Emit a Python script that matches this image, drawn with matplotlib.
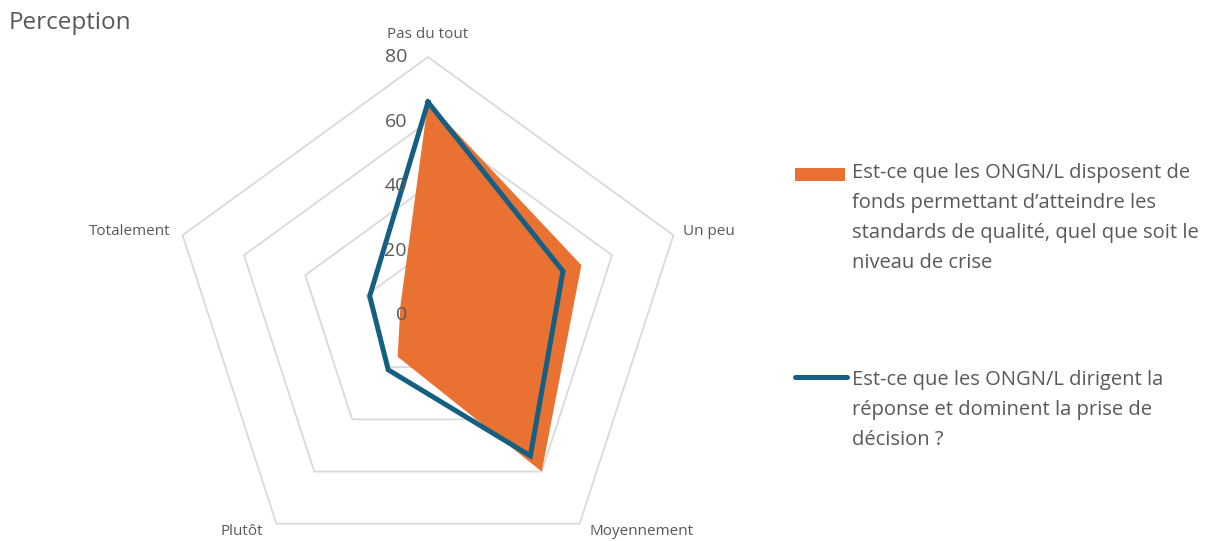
import numpy as np
import matplotlib.pyplot as plt
from matplotlib.patches import Rectangle
from matplotlib.lines import Line2D

plt.rcParams['font.family'] = ['Open Sans', 'DejaVu Sans']

categories = ['Pas du tout', 'Un peu', 'Moyennement', 'Plutôt', 'Totalement']
fonds = [66, 50, 60, 16, 9]
dirigent = [66, 44, 54, 21, 19]
rticks = [0, 20, 40, 60, 80]

label_fonds = ("Est-ce que les ONGN/L disposent de\nfonds permettant d\u2019atteindre les\n"
               "standards de qualité, quel que soit le\nniveau de crise")
label_dirigent = ("Est-ce que les ONGN/L dirigent la\nréponse et dominent la prise de\ndécision ?")

orange = '#E97132'
blue = '#156082'
grey = '#D9D9D9'
txt = '#595959'

W, H = 1214, 541
fig = plt.figure(figsize=(W / 100, H / 100), dpi=100)

# polar axes: centre at (428, 315) px, radius 258 px
cx, cy, R = 428, 315, 258
ax = fig.add_axes([(cx - R) / W, 1 - (cy + R) / H, 2 * R / W, 2 * R / H], projection='polar')
ax.set_theta_offset(np.pi / 2)
ax.set_theta_direction(-1)
ax.set_ylim(0, 80)
ax.grid(False)
ax.spines['polar'].set_visible(False)
ax.set_xticks([])
ax.set_yticks([])
ax.patch.set_alpha(0)

n = len(categories)
angles = np.arange(n) * 2 * np.pi / n
closed = np.append(angles, angles[0])

# pentagon gridlines
for r in rticks[1:]:
    ax.plot(closed, [r] * (n + 1), color=grey, lw=1.3, zorder=1, clip_on=False)

ax.fill(closed, fonds + fonds[:1], color=orange, lw=0, zorder=2, clip_on=False)
ax.plot(closed, dirigent + dirigent[:1], color=blue, lw=3.6, zorder=3,
        solid_joinstyle='miter', clip_on=False)

# radial tick labels
for r in rticks:
    ax.annotate(str(r), xy=(0, r), xytext=(-21, 0), textcoords='offset pixels',
                ha='right', va='center', fontsize=14, color=txt, zorder=5,
                annotation_clip=False)

# category labels
offsets = [((0, 23), 'center'), ((10, 4), 'left'), ((10, -8), 'left'),
           ((-13, -8), 'right'), ((-12, 4), 'right')]
for a, lab, (off, ha) in zip(angles, categories, offsets):
    ax.annotate(lab, xy=(a, 80), xytext=off, textcoords='offset pixels',
                ha=ha, va='center', fontsize=11, color=txt, annotation_clip=False)

fig.text(9 / W, 1 - 23 / H, 'Perception', fontsize=17.5, color=txt, ha='left', va='center')

# legend
fig.add_artist(Rectangle((795 / W, 1 - 181 / H), 50 / W, 13 / H, transform=fig.transFigure,
                         color=orange, lw=0))
fig.add_artist(Line2D([795 / W, 847 / W], [1 - 377 / H] * 2, transform=fig.transFigure,
                      color=blue, lw=3.6, solid_capstyle='round'))
fig.text(852 / W, 1 - 163 / H, label_fonds, fontsize=14.5, color=txt, ha='left', va='top',
         linespacing=1.67)
fig.text(852 / W, 1 - 370 / H, label_dirigent, fontsize=14.5, color=txt, ha='left', va='top',
         linespacing=1.67)

fig.savefig('out.png', dpi=100)
